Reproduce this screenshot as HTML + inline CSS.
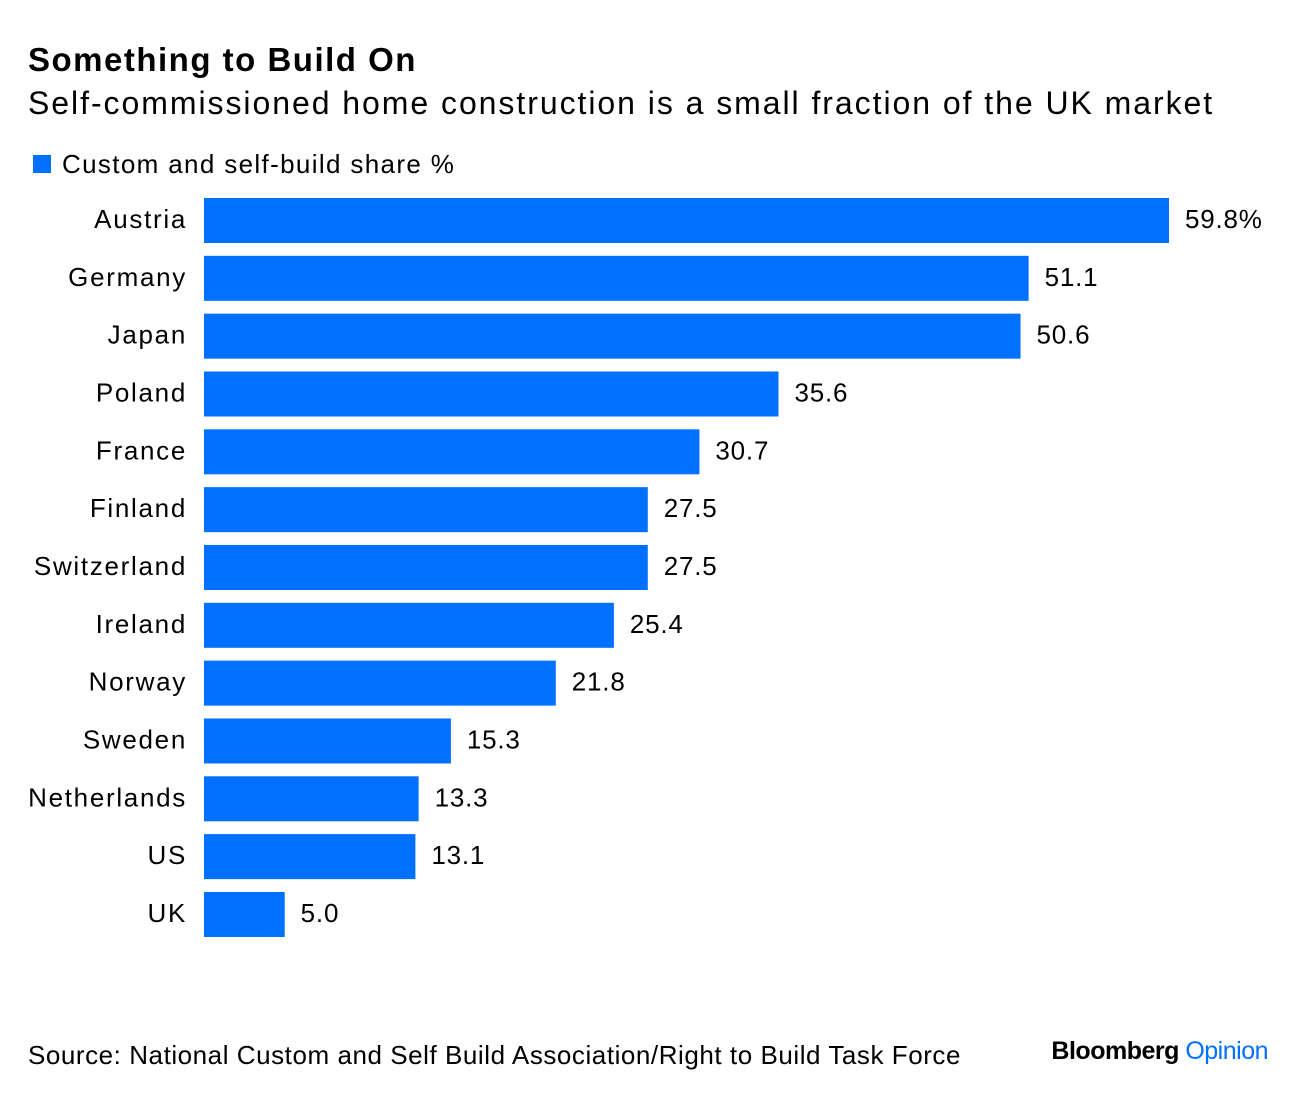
<!DOCTYPE html>
<html><head><meta charset="utf-8">
<style>
body{margin:0;background:#fff;font-family:"Liberation Sans",sans-serif;color:#000;}
#wrap{position:relative;width:1296px;height:1096px;overflow:hidden;}
.t{position:absolute;white-space:nowrap;}
</style></head>
<body>
<div id="wrap">
<div class="t" style="left:28px;top:41px;font-size:33px;font-weight:bold;letter-spacing:1.5px;">Something to Build On</div>
<div class="t" style="left:28px;top:85px;font-size:32px;letter-spacing:1.95px;">Self-commissioned home construction is a small fraction of the UK market</div>
<div style="position:absolute;left:33px;top:155px;width:18px;height:18px;background:#0070ff;"></div>
<div class="t" style="left:62px;top:149px;font-size:26px;letter-spacing:1.35px;">Custom and self-build share %</div>
<svg id="svg" width="1296" height="1096" style="position:absolute;left:0;top:0"></svg>
<div class="t" style="left:28px;top:1040px;font-size:26px;letter-spacing:0.55px;">Source: National Custom and Self Build Association/Right to Build Task Force</div>
<div class="t" style="right:28px;top:1037px;font-size:25px;font-weight:bold;letter-spacing:-0.5px;">Bloomberg <span style="color:#0070ff;font-weight:normal;">Opinion</span></div>
</div>
<script>
const categories=["Austria","Germany","Japan","Poland","France","Finland","Switzerland","Ireland","Norway","Sweden","Netherlands","US","UK"];
const values=[59.8,51.1,50.6,35.6,30.7,27.5,27.5,25.4,21.8,15.3,13.3,13.1,5.0];
const valueLabels=["59.8%","51.1","50.6","35.6","30.7","27.5","27.5","25.4","21.8","15.3","13.3","13.1","5.0"];
const svg=document.getElementById('svg');
const NS='http://www.w3.org/2000/svg';
const x0=204, scale=965/59.8;
const x=v=>x0+v*scale;
const y=i=>198+i*57.83;
categories.forEach((c,i)=>{
  const r=document.createElementNS(NS,'rect');
  r.setAttribute('x',x0);r.setAttribute('y',y(i));
  r.setAttribute('width',x(values[i])-x0);r.setAttribute('height',45);
  r.setAttribute('fill','#0070ff');
  
  
  svg.appendChild(r);
  const l=document.createElementNS(NS,'text');
  l.setAttribute('x',187);l.setAttribute('y',y(i)+30);
  l.setAttribute('text-anchor','end');l.setAttribute('font-size','26');
  l.setAttribute('letter-spacing','1.7');
  l.setAttribute('font-family','Liberation Sans, sans-serif');
  l.textContent=c;
  
  
  svg.appendChild(l);
  const t=document.createElementNS(NS,'text');
  t.setAttribute('x',x(values[i])+16);t.setAttribute('y',y(i)+30);
  t.setAttribute('font-size','26');
  t.setAttribute('letter-spacing','0.8');
  t.setAttribute('font-family','Liberation Sans, sans-serif');
  t.textContent=valueLabels[i];
  
  
  svg.appendChild(t);
});
</script>
</body></html>
